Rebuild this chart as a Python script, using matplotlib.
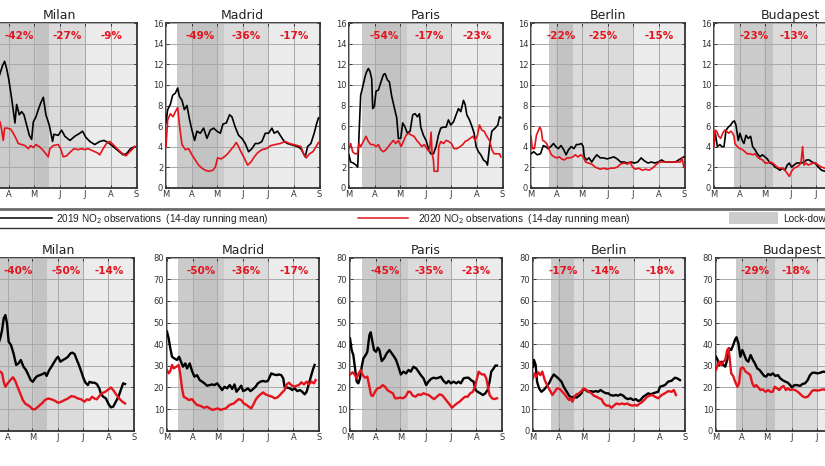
import numpy as np
import matplotlib
matplotlib.use('Agg')
import matplotlib.pyplot as plt
from matplotlib.lines import Line2D
from matplotlib.patches import Rectangle

W, H = 825, 466

cities = ['Milan', 'Madrid', 'Paris', 'Berlin', 'Budapest']
month_days = [0, 31, 61, 92, 122, 153, 184]
month_labels = ['M', 'A', 'M', 'J', 'J', 'A', 'S']

# lock-down phases (days since 1 March): start1, start2, start3, end
phase_milan = [8, 79, 124, 184]
phase_madrid = [13, 69, 123, 184]
phase_paris = [15, 70, 122, 184]
phase_berlin = [22, 50, 124, 184]
phase_budapest = [24, 71, 122, 184]
# stricter sub-period inside phase 1
sub_milan = (63, 79)
sub_madrid = (31, 61)
sub_paris = (31, 61)
sub_berlin = (30, 50)
sub_budapest = (60, 71)

pct_col = [['-42%', '-27%', '-9%'], ['-49%', '-36%', '-17%'], ['-54%', '-17%', '-23%'],
           ['-22%', '-25%', '-15%'], ['-23%', '-13%', None]]
pct_sfc = [['-40%', '-50%', '-14%'], ['-50%', '-36%', '-17%'], ['-45%', '-35%', '-23%'],
           ['-17%', '-14%', '-18%'], ['-29%', '-18%', None]]

# tropospheric column NO2 (top row), 14-day running mean, (day, value)
milan_col_2019 = [(19.5, 10.9), (20.4, 11.1), (23.5, 11.9), (25.9, 12.3), (28.3, 11.6), (31, 10.5),
                  (34.3, 8.7), (38.3, 6.3), (40.3, 8.1), (43.5, 7.1), (46.3, 7.4), (49.1, 7.1),
                  (52.3, 6.1), (55.5, 5.1), (58.3, 4.7), (60.3, 6.4), (63.5, 6.9), (66.3, 7.6),
                  (69, 8.2), (72.3, 8.8), (75.4, 7.1), (79.4, 6.1), (83.4, 4.5), (85, 5.2),
                  (90.2, 5.1), (94.2, 5.6), (98.2, 5.0), (104.2, 4.6), (110, 5.0), (116, 5.3),
                  (119.3, 5.5), (123.3, 4.9), (128, 4.5), (134, 4.2), (140, 4.5), (145, 4.6),
                  (150, 4.4), (156, 4.0), (162, 3.6), (168, 3.2), (172, 3.3), (176.8, 3.8), (182, 4.0)]
milan_col_2020 = [(19.5, 6.5), (20.4, 6.4), (22.4, 5.6), (24.3, 4.6), (25.9, 5.8), (29.1, 5.8),
                  (33.1, 5.7), (36.3, 5.3), (39.5, 4.8), (42.3, 4.3), (46.3, 4.2), (50.3, 4.1),
                  (54.3, 3.8), (57.1, 4.1), (60.3, 3.9), (63.5, 4.2), (67.5, 4.0), (71.4, 3.7),
                  (75.4, 3.3), (78.2, 3.0), (80.2, 3.8), (84.2, 4.1), (90.2, 4.2), (93, 3.8),
                  (96.2, 3.0), (100.2, 3.1), (105, 3.5), (109, 3.8), (114, 3.7), (118, 3.8),
                  (122, 3.7), (126, 3.8), (131.3, 3.6), (136.9, 3.4), (140, 3.2), (144, 3.8),
                  (148, 4.3), (152, 4.5), (156, 4.2), (160.8, 3.8), (166, 3.4), (171.2, 3.1),
                  (176, 3.5), (182, 4.0)]
madrid_col_2019 = [(0, 6.3), (2, 7.6), (5.2, 8.1), (8, 9.0), (11.2, 9.2), (14, 9.7), (16, 8.9),
                   (19.2, 8.5), (22, 7.6), (25.1, 8.0), (28.3, 6.6), (31.1, 5.6), (34.3, 4.6),
                   (37.1, 5.5), (41.1, 5.3), (45.1, 5.8), (49.1, 4.8), (53.1, 5.6), (57.1, 5.8),
                   (61.1, 5.5), (65.1, 5.3), (68.3, 6.2), (72.3, 6.3), (76.2, 7.1), (79, 6.9),
                   (83, 5.9), (87, 5.1), (91, 4.8), (95, 4.3), (99, 3.5), (103, 3.8), (107, 4.3),
                   (111, 4.3), (115, 4.5), (119, 5.3), (123, 5.3), (127, 5.8), (129.7, 5.3),
                   (133.7, 5.5), (137.7, 5.0), (141.7, 4.5), (145.7, 4.3), (149.7, 4.2),
                   (153.7, 4.1), (157.7, 4.0), (161.7, 3.8), (164.9, 3.3), (166.9, 3.0),
                   (169.7, 4.0), (173.7, 4.3), (177.6, 5.3), (180.8, 6.3), (182.8, 6.8)]
madrid_col_2020 = [(0, 4.0), (2, 6.6), (5.2, 7.2), (8.4, 6.9), (11.2, 7.4), (14, 7.8), (16.4, 5.9),
                   (19.2, 4.2), (23.2, 3.7), (27.1, 3.8), (31.1, 3.2), (35.1, 2.7), (39.1, 2.2),
                   (43.1, 1.9), (47.1, 1.7), (51.1, 1.6), (56.3, 1.7), (59.1, 2.0), (61.9, 2.9),
                   (65.9, 2.8), (69.9, 3.0), (73.9, 3.3), (77.8, 3.7), (81, 4.0), (84.2, 4.4),
                   (87, 4.0), (89.8, 3.5), (93.8, 2.9), (97.8, 2.2), (101.8, 2.5), (105.8, 3.0),
                   (109.8, 3.4), (115, 3.7), (120.2, 3.8), (125.7, 4.1), (130.9, 4.2),
                   (136.9, 4.3), (142.9, 4.5), (148.1, 4.3), (152.9, 4.2), (157.7, 4.1),
                   (161.7, 4.0), (164.9, 3.3), (168.1, 2.9), (172.1, 3.3), (176, 3.5),
                   (180, 4.0), (182.8, 4.4)]
paris_col_2019 = [(0, 3.2), (2, 2.5), (5.2, 2.4), (8.4, 2.2), (10.4, 2.0), (12.4, 5.9), (14, 9.0),
                  (16.4, 9.8), (19.2, 10.8), (21.2, 11.3), (23.2, 11.6), (25.2, 11.3), (27.2, 10.6),
                  (28.4, 7.7), (30.4, 7.9), (32.4, 9.4), (35.2, 9.5), (38, 10.2), (41.2, 11.0),
                  (43.2, 11.1), (46, 10.5), (48.4, 10.3), (51.2, 8.9), (54, 7.9), (57.2, 6.8),
                  (59.2, 4.8), (62, 4.8), (64.4, 6.3), (67.2, 5.9), (70, 5.3), (73.2, 5.5),
                  (76.4, 7.1), (79.2, 7.2), (82, 6.9), (84.4, 7.2), (86, 5.9), (89.2, 5.1),
                  (92.4, 4.6), (95.6, 3.7), (98, 3.3), (101.2, 3.3), (104.4, 4.0), (107.2, 5.1),
                  (110, 5.8), (113.2, 5.9), (116.4, 5.9), (119.2, 6.6), (122, 6.1), (125.2, 6.4),
                  (128.4, 7.1), (131.2, 7.7), (134, 7.4), (137.2, 8.5), (139.2, 8.1), (141.2, 7.1),
                  (144.4, 6.6), (147.2, 6.0), (150, 5.3), (152.4, 4.0), (155.2, 3.5), (158, 3.2),
                  (161.2, 2.7), (164.4, 2.5), (166, 2.2), (168.4, 4.0), (171.2, 5.5), (175.2, 5.8),
                  (178.4, 6.1), (180.4, 6.9), (182, 6.8)]
paris_col_2020 = [(0, 3.8), (2, 4.3), (4.4, 3.5), (7.2, 3.3), (10, 3.3), (12, 4.3), (14, 4.0),
                  (17.2, 4.5), (20.4, 5.0), (23.2, 4.5), (26, 4.2), (29.2, 4.2), (32.4, 4.0),
                  (35.2, 4.2), (38, 3.7), (41.2, 3.5), (44.4, 3.7), (47.2, 4.0), (50, 4.3),
                  (53.2, 4.6), (56, 4.3), (59.2, 4.6), (62.4, 4.0), (65.2, 4.5), (68.4, 5.1),
                  (71.2, 5.3), (75.2, 5.1), (78, 5.0), (81.2, 4.6), (84.4, 4.3), (87.2, 4.0),
                  (90.4, 4.2), (93.2, 3.8), (96.4, 3.5), (98.4, 5.4), (99.6, 3.3), (101.2, 2.7),
                  (102, 1.6), (104.4, 1.6), (106.4, 1.6), (107.6, 4.0), (110, 4.5), (113.2, 4.3),
                  (116.4, 4.6), (119.6, 4.5), (122.8, 4.3), (126, 3.8), (129.2, 3.8), (133.2, 4.0),
                  (136.4, 4.2), (139.2, 4.5), (142, 4.6), (145.2, 4.8), (148.4, 5.0), (151.2, 4.6),
                  (154, 5.1), (156.4, 6.1), (159.2, 5.6), (162, 5.5), (165.2, 5.0), (168.4, 4.6),
                  (171.2, 3.7), (174, 3.3), (177.2, 3.3), (180.4, 3.3), (182, 3.0)]
berlin_col_2019 = [(0, 3.3), (3.3, 3.5), (7.4, 3.2), (11.4, 3.3), (14.7, 4.1), (17.6, 4.0),
                   (20.4, 3.8), (23.7, 4.0), (27, 4.3), (29.8, 4.0), (32.7, 3.8), (36, 4.1),
                   (39.2, 3.7), (42.1, 3.2), (45, 3.7), (48.2, 4.0), (51.5, 3.8), (54.4, 4.2),
                   (57.2, 4.2), (60.5, 4.3), (62.6, 4.0), (63.8, 3.0), (66.6, 2.7), (69.5, 2.9),
                   (72.8, 2.5), (76, 2.9), (78.9, 3.2), (83, 2.9), (87.1, 2.9), (91.2, 2.8),
                   (95.3, 2.9), (99.3, 3.0), (103.4, 2.8), (107.5, 2.5), (111.6, 2.5), (115.7, 2.4),
                   (119.8, 2.5), (123.9, 2.4), (128, 2.5), (132, 2.9), (136.1, 2.6), (140.2, 2.4),
                   (144.3, 2.5), (148.4, 2.4), (152.5, 2.5), (156.6, 2.7), (160.7, 2.5),
                   (164.8, 2.5), (168.8, 2.5), (172.9, 2.5), (177, 2.7), (181.1, 2.9), (183.2, 3.0)]
berlin_col_2020 = [(0, 5.0), (1.6, 3.8), (4.1, 3.8), (6.5, 5.1), (9, 5.6), (10.6, 5.9), (12.3, 5.6),
                   (13.9, 4.6), (16.4, 4.5), (18.8, 4.3), (21.7, 3.7), (24.5, 3.2), (27.8, 3.0),
                   (31.1, 2.9), (33.9, 3.0), (36.8, 2.8), (40.1, 2.7), (43.3, 2.9), (46.6, 2.9),
                   (50.3, 3.0), (53.1, 3.2), (56.4, 3.0), (59.7, 3.2), (62.6, 3.0), (65.4, 2.5),
                   (68.7, 2.4), (72.8, 2.3), (76.9, 2.0), (80.1, 1.9), (83, 1.8), (87.1, 1.9),
                   (91.2, 1.8), (95.3, 1.9), (99.3, 1.9), (103.4, 2.0), (107.5, 2.3), (111.6, 2.4),
                   (115.7, 2.3), (118.6, 2.5), (121.8, 2.0), (125.1, 1.8), (129.2, 1.9),
                   (133.3, 1.7), (137.4, 1.8), (141.5, 1.7), (145.5, 1.9), (149.6, 2.2),
                   (153.7, 2.5), (158.6, 2.5), (162.7, 2.5), (166.8, 2.5), (170.9, 2.5),
                   (175, 2.5), (179.1, 2.5), (181.1, 2.9), (183.2, 2.0)]
budapest_col_2019 = [(0, 4.3), (1.6, 5.3), (4, 4.0), (7.2, 4.2), (9.2, 4.0), (12, 4.0), (14.4, 5.6),
                     (17.2, 5.9), (20, 6.1), (22.4, 6.4), (24.4, 6.5), (26.3, 6.1), (29.1, 4.6),
                     (31.1, 5.3), (33.9, 4.6), (35.9, 4.3), (38.3, 5.1), (41.1, 4.8), (43.9, 5.0),
                     (46.3, 4.0), (49.1, 3.7), (51.9, 3.3), (55.1, 3.0), (57.9, 3.2), (61.1, 3.0),
                     (63.9, 2.8), (67.1, 2.4), (70.3, 2.3), (73.1, 2.0), (75.8, 1.9), (79, 1.7),
                     (82.2, 1.9), (85, 1.7), (87.8, 2.2), (90.2, 2.4), (93, 2.0), (95.8, 2.2),
                     (99, 2.4), (102.2, 2.4), (105, 2.4), (107.8, 2.5), (111, 2.7), (114.2, 2.7),
                     (117.4, 2.5), (121, 2.4), (125, 2.0), (128.9, 1.7), (133, 1.6), (136, 1.7)]
budapest_col_2020 = [(0, 4.0), (1.2, 5.6), (3.2, 5.5), (5.6, 5.0), (8, 4.8), (10.4, 5.3), (12.8, 5.6),
                     (15.2, 5.5), (17.6, 5.3), (20, 5.5), (22.4, 5.3), (24, 5.0), (25.1, 4.3),
                     (27.9, 4.0), (31.1, 3.8), (34.3, 3.7), (37.1, 3.5), (39.9, 3.3), (43.1, 3.3),
                     (46.3, 3.2), (49.1, 3.3), (51.9, 3.0), (55.1, 2.8), (58.3, 2.7), (61.1, 2.4),
                     (63.9, 2.4), (67.1, 2.5), (70.3, 2.4), (73.1, 2.2), (75.8, 2.0), (79, 1.9),
                     (82.2, 1.9), (85, 1.7), (87.8, 1.4), (90.2, 1.1), (93, 1.6), (95.8, 1.9),
                     (99, 2.0), (102.2, 2.2), (104.2, 2.4), (106.2, 4.0), (107.8, 2.2), (110.2, 2.4),
                     (113, 2.2), (115.8, 2.3), (119, 2.4), (122.2, 2.4), (125, 2.2), (128.9, 2.0),
                     (133, 1.9), (136, 1.9)]

# surface NO2 (bottom row), 14-day running mean, (day, value)
milan_sfc_2019 = [(21, 41.5), (22.3, 43.1), (24.3, 46.5), (26.3, 51.9), (28.3, 53.5), (30.3, 49.6),
                  (32.3, 41.1), (35.1, 39.6), (38.2, 35.7), (41.4, 30.4), (44.2, 31.1), (47, 32.7),
                  (50.2, 29.6), (53.4, 28.0), (56.2, 25.7), (59, 23.4), (61.4, 22.6), (64.2, 24.2),
                  (67, 25.3), (70.2, 25.7), (73.4, 26.2), (76.2, 26.8), (78.2, 25.3), (81.3, 28.0),
                  (84.1, 29.6), (86.9, 31.4), (90.1, 33.4), (92.1, 34.2), (94.9, 31.9), (98.1, 32.7),
                  (101.3, 33.4), (104.1, 34.2), (106.9, 35.7), (109.3, 36.1), (112.1, 35.4),
                  (114.1, 33.4), (117.3, 30.4), (120.1, 27.4), (122.9, 24.2), (125.3, 22.2),
                  (128.1, 21.1), (130.1, 22.6), (133.3, 22.2), (136.1, 22.2), (138.9, 21.6),
                  (142, 19.6), (144, 17.0), (146.8, 15.7), (150, 14.9), (153.2, 12.3), (156, 10.8),
                  (158.8, 11.1), (162, 13.4), (165.2, 15.7), (168, 18.8), (170.8, 21.9), (173.2, 21.6)]
milan_sfc_2020 = [(21, 27.5), (22.3, 27.3), (24.3, 26.5), (26.3, 22.6), (28.3, 20.3), (31.1, 21.9),
                  (34.3, 23.4), (37.5, 24.7), (40.2, 23.1), (43, 20.3), (46.2, 17.3), (49.4, 14.2),
                  (52.2, 12.6), (55, 11.9), (58.2, 11.1), (61.4, 9.9), (64.2, 9.9), (67, 10.8),
                  (70.2, 11.9), (73.4, 12.9), (76.2, 14.2), (80.2, 14.9), (84.1, 14.5), (88.1, 13.9),
                  (92.1, 12.9), (96.1, 13.4), (100.1, 14.2), (104.1, 14.9), (108.1, 16.0),
                  (112.1, 15.7), (116.1, 14.9), (120.1, 14.5), (124.1, 13.4), (126.9, 14.5),
                  (130.1, 14.2), (133.3, 15.7), (136.1, 14.9), (138.9, 14.5), (142, 16.0),
                  (145.2, 17.3), (149.2, 18.0), (153.2, 19.1), (156, 20.0), (158.8, 18.8),
                  (162, 17.0), (166, 14.9), (170, 13.4), (173.2, 12.6)]
madrid_sfc_2019 = [(0, 45.8), (2, 42.7), (4, 38.1), (6.1, 34.2), (8.9, 33.4), (12.1, 32.7), (14.6, 34.2),
                   (17, 31.9), (19.4, 29.6), (22.2, 31.1), (24.3, 28.8), (27.5, 31.1), (30.3, 27.6),
                   (33.2, 25.0), (36.4, 25.7), (39.6, 23.4), (42.5, 22.7), (45.3, 21.9), (48.5, 20.8),
                   (51.8, 21.1), (54.6, 21.4), (57.4, 21.1), (60.7, 21.9), (63.9, 20.3), (66.7, 18.8),
                   (69.6, 20.3), (72.8, 19.6), (76, 21.1), (78.9, 19.3), (81.7, 21.4), (84.1, 18.0),
                   (86.9, 19.3), (89.8, 20.8), (92.2, 18.3), (95, 18.8), (97.9, 19.6), (101.1, 18.3),
                   (104.3, 19.3), (107.2, 20.3), (110, 21.9), (113.2, 22.7), (116.5, 23.0),
                   (119.3, 22.7), (122.1, 23.0), (124.5, 25.0), (126.2, 26.5), (129.4, 26.0),
                   (132.6, 25.7), (135.5, 26.0), (138.3, 25.7), (140.7, 24.2), (142.3, 20.3),
                   (145.6, 19.9), (148.8, 19.6), (151.6, 18.8), (154.5, 19.6), (157.7, 18.3),
                   (160.9, 18.8), (163.8, 18.0), (166.6, 16.8), (169, 18.0), (171.9, 21.9),
                   (174.7, 25.7), (177.1, 28.8), (178.7, 30.4)]
madrid_sfc_2020 = [(0, 28.1), (2, 26.5), (4, 27.6), (6.1, 30.4), (8.1, 28.8), (11.3, 29.6), (14.2, 30.4),
                   (16.2, 25.7), (18.2, 19.6), (20.2, 15.7), (23.5, 15.0), (26.3, 14.2), (30.3, 14.6),
                   (33.2, 13.1), (36.4, 11.9), (39.6, 11.6), (42.5, 11.1), (45.3, 10.6), (48.5, 11.1),
                   (51.8, 10.3), (55, 9.6), (58.6, 10.0), (61.5, 10.3), (64.7, 9.6), (67.9, 10.0),
                   (71.2, 10.3), (74.8, 11.6), (77.6, 12.2), (80.9, 12.6), (84.1, 13.7), (86.9, 14.6),
                   (89.8, 14.2), (93, 12.6), (96.2, 11.9), (99.1, 11.1), (101.9, 10.3), (104.3, 11.9),
                   (107.2, 14.2), (110, 15.7), (113.2, 16.8), (116.5, 17.7), (119.3, 16.8),
                   (123.3, 16.2), (127.4, 15.7), (130.2, 15.0), (133.4, 15.3), (136.7, 16.5),
                   (139.5, 17.7), (142.3, 18.8), (144.8, 21.4), (147.6, 22.2), (150.4, 21.1),
                   (153.7, 20.3), (156.9, 20.8), (159.7, 21.1), (162.6, 22.4), (165.8, 21.4),
                   (169, 22.7), (171.9, 21.4), (174.7, 22.7), (177.9, 21.9), (179.9, 23.4)]
paris_sfc_2019 = [(0, 42.7), (2, 37.3), (4, 35.0), (6.1, 28.8), (8.1, 22.7), (10.1, 21.9), (12.1, 24.2),
                  (14.2, 29.6), (16.2, 33.4), (19, 35.0), (21, 36.5), (23.5, 44.2), (25.1, 45.5),
                  (27.1, 41.2), (29.1, 37.3), (31.5, 36.5), (33.6, 38.4), (35.6, 37.3), (38.4, 32.2),
                  (41.2, 33.4), (44.5, 35.8), (47.7, 37.3), (50.5, 35.8), (53.4, 34.2), (55.8, 32.7),
                  (58.6, 29.6), (61.5, 26.0), (64.7, 27.3), (67.9, 26.5), (70.8, 28.1), (73.6, 27.3),
                  (76.8, 29.6), (80.1, 28.8), (82.9, 27.3), (85.7, 25.7), (89, 24.2), (92.2, 21.1),
                  (95, 22.7), (97.9, 23.9), (101.1, 24.5), (104.3, 24.2), (107.2, 24.5), (110, 25.0),
                  (113.2, 23.0), (116.5, 21.9), (119.3, 23.0), (122.1, 21.9), (125.4, 22.7),
                  (128.6, 21.9), (131.4, 22.7), (134.2, 21.9), (137.5, 24.2), (140.7, 24.5),
                  (143.6, 24.5), (146.4, 23.4), (149.6, 22.7), (152, 18.8), (154.5, 18.0),
                  (157.7, 17.3), (160.9, 16.5), (163.8, 17.3), (166.6, 18.8), (169, 22.7),
                  (171, 27.3), (173.9, 28.8), (175.9, 30.1), (177.9, 30.1)]
paris_sfc_2020 = [(0, 26.0), (3.2, 27.0), (6.1, 25.7), (8.1, 24.2), (10.5, 26.5), (12.9, 28.1),
                  (15.4, 25.7), (18.2, 24.5), (21, 25.0), (23.5, 20.3), (25.5, 16.5), (27.5, 16.0),
                  (30.3, 18.0), (33.2, 19.6), (36.4, 19.9), (39.6, 21.1), (42.5, 20.3), (45.3, 18.8),
                  (48.5, 18.0), (51.8, 17.3), (54.6, 15.0), (57.4, 15.0), (60.7, 15.3), (63.9, 15.0),
                  (67.1, 15.7), (70.4, 18.0), (72.8, 18.0), (76, 16.2), (79.3, 15.7), (82.5, 16.8),
                  (85.7, 16.5), (89, 17.3), (92.2, 16.8), (95.4, 16.5), (99.1, 15.3), (101.9, 14.6),
                  (105.1, 15.7), (108.4, 16.8), (111.2, 16.5), (114, 15.3), (117.3, 13.7),
                  (120.5, 12.2), (123.3, 10.6), (126.2, 11.6), (129.4, 12.6), (132.6, 13.4),
                  (135.9, 14.6), (139.1, 15.7), (142.3, 15.7), (145.6, 17.3), (148.8, 18.0),
                  (151.2, 20.3), (153.7, 24.2), (155.7, 27.3), (157.7, 26.5), (160.1, 26.0),
                  (162.6, 26.0), (165, 24.2), (166.6, 21.1), (169, 16.5), (171.9, 15.0),
                  (174.7, 14.6), (177.9, 15.0)]
berlin_sfc_2019 = [(0, 29.6), (1.2, 32.7), (3.2, 30.4), (4.9, 22.7), (7.3, 19.6), (10.1, 18.0),
                   (12.9, 18.8), (16.2, 20.3), (19.4, 21.9), (22.2, 24.2), (25.1, 26.0), (28.3, 25.0),
                   (31.5, 23.9), (34.4, 22.7), (37.2, 20.3), (40.4, 18.3), (43.7, 16.2), (46.5, 15.3),
                   (49.3, 15.7), (52.6, 15.3), (55.8, 16.2), (58.6, 17.3), (60.7, 19.3), (63.9, 18.8),
                   (66.7, 18.0), (69.6, 18.3), (72.8, 18.0), (76, 18.3), (78.9, 18.0), (81.7, 18.8),
                   (84.9, 18.0), (88.2, 17.3), (91, 17.3), (93.8, 16.5), (97, 16.2), (100.3, 16.5),
                   (103.1, 16.2), (105.9, 16.8), (109.2, 16.2), (112.4, 15.0), (115.2, 14.6),
                   (118.1, 15.0), (121.3, 14.2), (124.5, 14.6), (127.4, 13.7), (130.2, 14.2),
                   (133.4, 15.7), (136.7, 16.5), (139.5, 17.3), (142.3, 16.8), (145.6, 17.3),
                   (148.8, 17.7), (151.6, 18.0), (153.7, 20.3), (159.7, 21.1), (163.7, 22.7),
                   (167.8, 23.1), (171.8, 24.5), (174.6, 24.2), (177.9, 23.4)]
berlin_sfc_2020 = [(0, 24.2), (1.6, 26.5), (4, 25.0), (6.5, 27.0), (8.9, 25.7), (11.3, 27.3),
                   (14.2, 23.4), (17, 21.1), (20.2, 18.8), (23.5, 16.5), (26.3, 18.0), (29.1, 19.6),
                   (32.3, 19.3), (35.6, 18.0), (38.4, 16.8), (41.2, 15.3), (43.7, 14.2), (45.3, 15.0),
                   (47.7, 13.4), (50.1, 15.7), (52.6, 16.8), (55.8, 17.3), (58.6, 18.3), (61.5, 19.6),
                   (64.7, 18.8), (67.9, 18.0), (70.8, 17.3), (73.6, 16.2), (76.8, 15.7), (80.1, 15.0),
                   (82.9, 14.6), (85.7, 12.6), (89, 11.6), (92.2, 11.6), (95, 10.6), (97.9, 11.6),
                   (101.1, 12.6), (104.3, 12.2), (107.6, 12.6), (110.8, 12.2), (114, 12.6),
                   (117.3, 11.9), (120.5, 11.6), (123.3, 11.9), (126.2, 11.6), (129.4, 12.6),
                   (132.6, 13.4), (135.5, 14.6), (138.3, 15.7), (141.5, 16.2), (144.8, 16.5),
                   (147.6, 15.7), (151.6, 15.0), (155.7, 16.5), (159.7, 17.3), (163.7, 18.3),
                   (167.8, 18.0), (170.6, 18.8), (173, 16.5)]
budapest_sfc_2019 = [(0, 34.2), (2, 32.7), (4, 30.4), (6.4, 31.9), (8.8, 30.4), (11.2, 29.6), (14, 33.4),
                     (16, 38.1), (18.4, 37.3), (20.8, 39.6), (23.2, 42.2), (24.8, 43.2), (27.1, 40.4),
                     (29.5, 34.2), (31.9, 37.3), (34.3, 35.0), (36.7, 32.7), (39.1, 31.9), (41.9, 35.0),
                     (44.7, 32.7), (47.1, 31.1), (49.9, 28.8), (52.7, 28.1), (55.9, 26.5), (58.3, 25.3),
                     (60.7, 25.0), (63.1, 26.2), (65.9, 25.7), (68.7, 26.5), (71.9, 25.3), (75, 25.7),
                     (77.8, 24.2), (80.6, 23.4), (83.8, 22.7), (87, 22.2), (89.8, 21.1), (91.8, 20.0),
                     (95, 21.1), (98.2, 21.1), (101.8, 20.7), (104.6, 21.6), (107.8, 21.9), (111, 23.4),
                     (113.8, 25.7), (116.6, 26.8), (119.8, 26.8), (123, 26.5), (126.1, 26.8),
                     (129.7, 27.3), (134, 27.1)]
budapest_sfc_2020 = [(0, 28.1), (2, 30.4), (4, 31.9), (6.4, 30.4), (8.8, 31.9), (11.2, 32.7), (13.6, 37.3),
                     (15.2, 38.1), (16.8, 32.7), (18.4, 26.5), (20.8, 25.3), (23.2, 22.7), (25.9, 20.3),
                     (27.9, 21.9), (29.9, 28.8), (32.7, 29.3), (35.9, 27.3), (39.1, 26.5), (41.5, 25.7),
                     (43.9, 21.9), (46.3, 20.3), (48.7, 21.1), (51.1, 20.0), (53.9, 18.8), (56.7, 19.1),
                     (59.9, 18.0), (63.1, 18.8), (65.9, 18.0), (68.7, 18.0), (71.1, 20.3), (73.9, 19.6),
                     (76.6, 18.8), (79, 20.0), (81.8, 20.7), (84.6, 18.8), (87, 19.6), (89.8, 18.8),
                     (92.6, 19.1), (95.8, 18.8), (99, 18.0), (101.8, 17.0), (104.6, 16.0), (107.8, 15.4),
                     (111, 15.7), (113.8, 17.0), (116.6, 18.5), (119.8, 18.8), (123, 18.5), (126.1, 18.8),
                     (129.7, 19.1), (134, 18.8)]

phases = [phase_milan, phase_madrid, phase_paris, phase_berlin, phase_budapest]
subs = [sub_milan, sub_madrid, sub_paris, sub_berlin, sub_budapest]
col_2019 = [milan_col_2019, madrid_col_2019, paris_col_2019, berlin_col_2019, budapest_col_2019]
col_2020 = [milan_col_2020, madrid_col_2020, paris_col_2020, berlin_col_2020, budapest_col_2020]
sfc_2019 = [milan_sfc_2019, madrid_sfc_2019, paris_sfc_2019, berlin_sfc_2019, budapest_sfc_2019]
sfc_2020 = [milan_sfc_2020, madrid_sfc_2020, paris_sfc_2020, berlin_sfc_2020, budapest_sfc_2020]

RED = '#e4131c'
shades = ['#cbcbcb', '#dbdbdb', '#ececec']
SUB = '#c3c3c3'

fig = plt.figure(figsize=(W / 100, H / 100), dpi=100)

# axes positions in pixels
lefts_top = [-17, 166, 349, 531, 714]
lefts_bot = [-18, 167, 350, 533, 716]


def panel(left, top, width, height, i, s19, s20, pcts, ymax, ystep, lw):
    ax = fig.add_axes([left / W, 1 - (top + height) / H, width / W, height / H])
    ph = phases[i]
    for k in range(3):
        ax.axvspan(ph[k], ph[k + 1], color=shades[k], lw=0, zorder=0)
    if subs[i] is not None:
        ax.axvspan(subs[i][0], subs[i][1], color=SUB, lw=0, zorder=0)
    d, v = np.array(s19).T
    ax.plot(d, v, color='black', lw=lw, zorder=3)
    d, v = np.array(s20).T
    ax.plot(d, v, color=RED, lw=lw, zorder=3)
    for k in range(3):
        if pcts[k]:
            ax.text((ph[k] + ph[k + 1]) / 2, ymax * 0.925, pcts[k], color=RED, fontsize=7.5,
                    fontweight='bold', ha='center', va='center', zorder=4)
    ax.set_xlim(0, 184)
    ax.set_ylim(0, ymax)
    ax.set_xticks(month_days)
    ax.set_xticklabels(month_labels)
    ax.set_yticks(np.arange(0, ymax + 0.1, ystep))
    ax.set_axisbelow(False)
    ax.grid(True, color='#a8a8a8', lw=0.7, zorder=2.5)
    ax.tick_params(direction='in', length=2.5, width=0.7, labelsize=6, pad=2,
                   top=True, right=True, colors='#333333')
    for s in ax.spines.values():
        s.set_color('#333333')
        s.set_linewidth(1.3)
    ax.set_title(cities[i], fontsize=9, pad=3, color='#222222')
    return ax


for i in range(5):
    panel(lefts_top[i], 23.3, 153.5, 164.4, i, col_2019[i], col_2020[i], pct_col[i], 16, 2, 1.2)
    panel(lefts_bot[i], 257.7, 152, 173, i, sfc_2019[i], sfc_2020[i], pct_sfc[i], 80, 10, 1.7)


def fx(px):
    return px / W


def fy(py):
    return 1 - py / H


# legend band between the two rows
fig.add_artist(Line2D([fx(-10), fx(W + 10)], [fy(209)] * 2, color='#6a6a6a', lw=2.0))
fig.add_artist(Line2D([fx(-10), fx(W + 10)], [fy(228.3)] * 2, color='#333333', lw=1.0))
fig.add_artist(Line2D([fx(-10), fx(52)], [fy(218)] * 2, color='black', lw=1.1))
fig.add_artist(Line2D([fx(358), fx(408)], [fy(218)] * 2, color=RED, lw=1.1))
fig.add_artist(Rectangle((fx(729), fy(224)), fx(49), 12 / H, color='#cccccc', lw=0))

leg_kw = dict(family='Liberation Sans', va='center', ha='left', color='#222222')
leg_texts = [fig.text(fx(56), fy(218.5), '2019 NO$_2$ observations  (14-day running mean)', fontsize=8, **leg_kw),
             fig.text(fx(418), fy(218.5), '2020 NO$_2$ observations  (14-day running mean)', fontsize=8, **leg_kw),
             fig.text(fx(783), fy(218.5), 'Lock-down', fontsize=8, **leg_kw)]
# scale legend font so the entry text spans the same width as in the source figure
renderer = fig.canvas.get_renderer()
w0 = leg_texts[0].get_window_extent(renderer=renderer).width
fs = 8 * 212 / w0
for t in leg_texts:
    t.set_fontsize(fs)

fig.savefig('out.png', dpi=100)
